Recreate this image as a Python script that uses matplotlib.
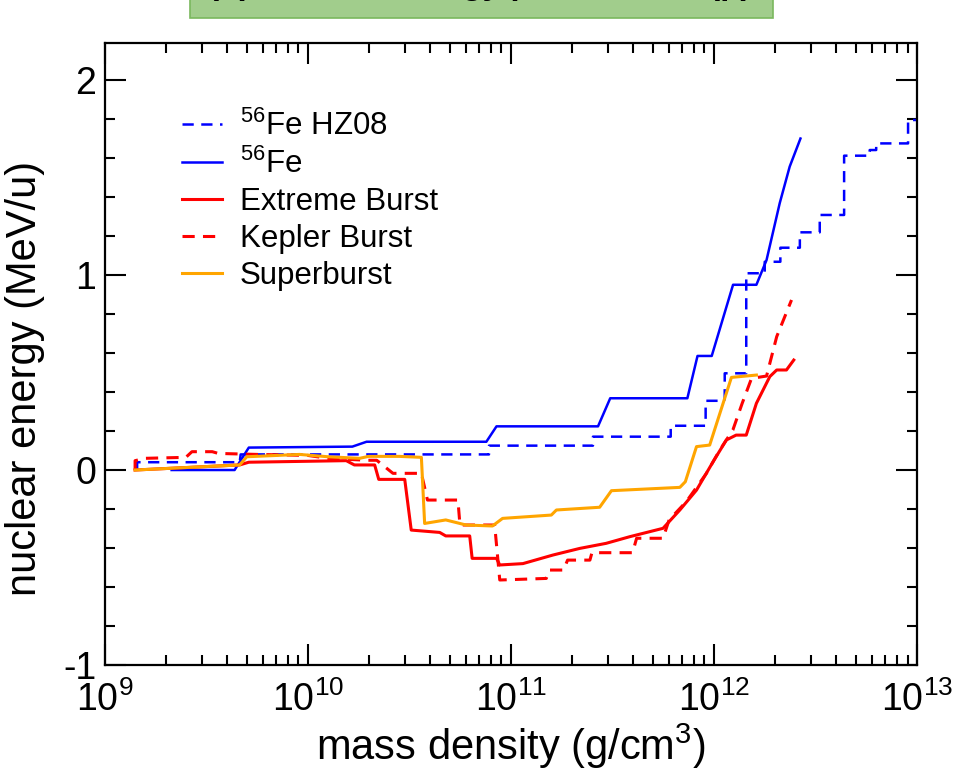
import numpy as np
import matplotlib
matplotlib.use("Agg")
import matplotlib.pyplot as plt
from matplotlib.patches import Rectangle
from matplotlib.ticker import LogLocator, MultipleLocator, NullFormatter, FixedLocator

plt.rcParams['font.family'] = ['Liberation Sans', 'DejaVu Sans']
plt.rcParams['mathtext.default'] = 'regular'
plt.rcParams['axes.unicode_minus'] = False

# ---- data (log10 of mass density in g/cm^3, nuclear energy in MeV/u) ----
fe_hz08_logrho = [9.16, 9.16, 9.665, 9.67, 10.893, 10.893, 11.405, 11.405, 11.788, 11.788,
                  11.96, 11.96, 12.054, 12.054, 12.16, 12.16, 12.251, 12.251, 12.328, 12.328,
                  12.424, 12.424, 12.522, 12.522, 12.642, 12.642, 12.768, 12.768, 12.80, 12.80,
                  12.957, 12.957, 13.0]
fe_hz08_energy = [0.0, 0.04, 0.04, 0.08, 0.08, 0.125, 0.125, 0.171, 0.171, 0.227,
                  0.227, 0.355, 0.355, 0.496, 0.496, 1.009, 1.009, 1.068, 1.068, 1.14,
                  1.14, 1.219, 1.219, 1.308, 1.308, 1.612, 1.612, 1.641, 1.641, 1.675,
                  1.675, 1.795, 1.795]

fe_logrho = [9.33, 9.64, 9.71, 10.22, 10.29, 10.88, 10.93, 11.43, 11.49, 11.87, 11.92,
             11.99, 12.095, 12.21, 12.26, 12.325, 12.374, 12.427]
fe_energy = [0.0, 0.0, 0.115, 0.12, 0.145, 0.145, 0.224, 0.224, 0.368, 0.368, 0.585,
             0.585, 0.95, 0.95, 1.077, 1.369, 1.556, 1.70]

extreme_logrho = [9.15, 9.665, 9.71, 10.19, 10.23, 10.33, 10.35, 10.478, 10.51, 10.65,
                  10.68, 10.798, 10.81, 10.93, 10.946, 11.06, 11.208, 11.34, 11.47, 11.586,
                  11.75, 11.833, 11.915, 11.997, 12.062, 12.11, 12.16, 12.21, 12.276, 12.31,
                  12.358, 12.394]
extreme_energy = [0.0, 0.026, 0.04, 0.048, 0.026, 0.026, -0.048, -0.048, -0.308, -0.32,
                  -0.338, -0.338, -0.453, -0.453, -0.487, -0.48, -0.436, -0.402, -0.376, -0.342,
                  -0.299, -0.205, -0.103, 0.043, 0.154, 0.179, 0.179, 0.342, 0.479, 0.513,
                  0.513, 0.564]

kepler_logrho = [9.15, 9.15, 9.2, 9.4, 9.43, 9.53, 9.56, 9.75, 10.0, 10.1, 10.29, 10.34,
                 10.42, 10.56, 10.59, 10.74, 10.75, 10.921, 10.946, 11.175, 11.19, 11.26,
                 11.28, 11.39, 11.40, 11.60, 11.62, 11.75, 11.78, 11.865, 11.964, 12.03,
                 12.094, 12.14, 12.186, 12.26, 12.31, 12.383]
kepler_energy = [0.0, 0.048, 0.06, 0.065, 0.094, 0.094, 0.085, 0.08, 0.075, 0.06, 0.05, 0.05,
                 -0.017, -0.017, -0.154, -0.154, -0.282, -0.282, -0.564, -0.556, -0.513, -0.513,
                 -0.462, -0.462, -0.424, -0.424, -0.35, -0.35, -0.256, -0.162, -0.017, 0.103,
                 0.205, 0.342, 0.47, 0.482, 0.684, 0.872]

super_logrho = [9.15, 9.665, 9.70, 9.96, 10.10, 10.256, 10.30, 10.45, 10.56, 10.576, 10.68,
                10.78, 10.91, 10.96, 11.20, 11.225, 11.438, 11.496, 11.833, 11.86, 11.915,
                11.98, 12.087, 12.21]
super_energy = [0.0, 0.026, 0.068, 0.08, 0.068, 0.06, 0.07, 0.07, 0.065, -0.274, -0.256,
                -0.282, -0.287, -0.248, -0.231, -0.205, -0.191, -0.106, -0.089, -0.06, 0.12,
                0.128, 0.475, 0.487]

labels = [r"$^{56}$Fe HZ08", r"$^{56}$Fe", "Extreme Burst", "Kepler Burst", "Superburst"]
y_ticks = [-1, 0, 1, 2]
y_ticklabels = ["-1", "0", "1", "2"]

# ---- figure ----
fig = plt.figure(figsize=(9.6, 7.73), dpi=100)
ax = fig.add_axes([0.109, 0.1397, 0.846, 0.8047])

dash = (4.5, 3)
ax.plot(10 ** np.array(fe_hz08_logrho), fe_hz08_energy, color='#0000ff', lw=1.8,
        dashes=dash, label=labels[0])
ax.plot(10 ** np.array(fe_logrho), fe_energy, color='#0000ff', lw=1.8, label=labels[1])
ax.plot(10 ** np.array(extreme_logrho), extreme_energy, color='#ff0000', lw=2.2, label=labels[2])
ax.plot(10 ** np.array(kepler_logrho), kepler_energy, color='#ff0000', lw=2.2,
        dashes=(4, 2.7), label=labels[3])
ax.plot(10 ** np.array(super_logrho), super_energy, color='#ffa500', lw=2.2, label=labels[4])

ax.set_xscale('log')
ax.set_xlim(1e9, 1e13)
ax.set_ylim(-1, 2.19)

ax.xaxis.set_major_locator(LogLocator(base=10, numticks=10))
ax.xaxis.set_minor_locator(LogLocator(base=10, subs=np.arange(2, 10), numticks=20))
ax.xaxis.set_minor_formatter(NullFormatter())
ax.yaxis.set_major_locator(FixedLocator(y_ticks))
ax.set_yticklabels(y_ticklabels)
ax.yaxis.set_minor_locator(MultipleLocator(0.2))

ax.tick_params(which='both', direction='in', top=True, right=True, width=1.5, labelsize=27)
ax.tick_params(which='major', length=15)
ax.tick_params(which='minor', length=7.5)
ax.tick_params(axis='x', pad=12)
ax.tick_params(axis='y', pad=6)
for s in ax.spines.values():
    s.set_linewidth(1.6)

ax.set_xlabel(r"mass density (g/cm$^3$)", fontsize=30, labelpad=2)
ax.set_ylabel("nuclear energy (MeV/u)", fontsize=30)
ax.yaxis.set_label_coords(-0.074, 0.46)

leg = ax.legend(loc='upper left', bbox_to_anchor=(0.08, 0.911), frameon=False, fontsize=22.5,
                handlelength=1.27, handletextpad=0.57, labelspacing=0.22, borderaxespad=0)

# ---- green title box cut by the top edge ----
box = Rectangle((190 / 960, 1 - 18 / 773), (773 - 190) / 960, 0.1,
                transform=fig.transFigure, facecolor='#a1cd8c', edgecolor='#7ab85e',
                lw=1.2, clip_on=False)
fig.patches.append(box)
fig.text(208 / 960, 1 + 6 / 773, "(b) Nuclear energy per nucleon (p)",
         fontsize=24, fontweight='bold', va='baseline', ha='left')

fig.savefig("out.png", dpi=100)
